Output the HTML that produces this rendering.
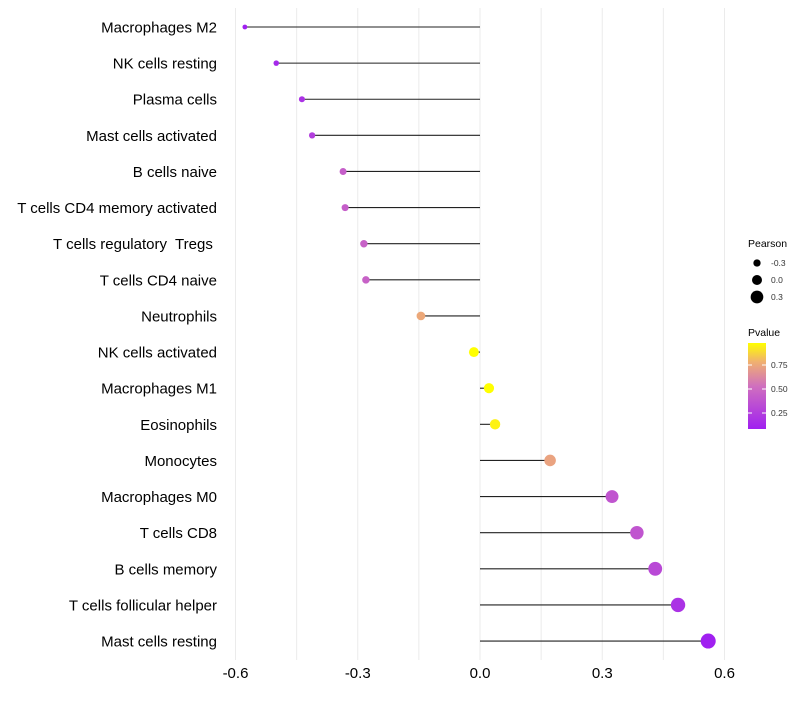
<!DOCTYPE html>
<html><head><meta charset="utf-8"><style>
body{margin:0;background:#fff;font-family:"Liberation Sans",sans-serif}
text{white-space:pre}
</style></head><body>
<svg id="chart" width="800" height="700" xmlns="http://www.w3.org/2000/svg" font-family="Liberation Sans, sans-serif"></svg>
<script>
const categories=["Macrophages M2","NK cells resting","Plasma cells","Mast cells activated","B cells naive","T cells CD4 memory activated","T cells regulatory  Tregs ","T cells CD4 naive","Neutrophils","NK cells activated","Macrophages M1","Eosinophils","Monocytes","Macrophages M0","T cells CD8","B cells memory","T cells follicular helper","Mast cells resting"];
const pearson=[-0.577,-0.50,-0.437,-0.412,-0.336,-0.331,-0.285,-0.28,-0.145,-0.015,0.022,0.037,0.172,0.324,0.385,0.43,0.486,0.56];
const pvalue=[0.05,0.1,0.15,0.22,0.4,0.4,0.42,0.42,0.72,0.95,0.93,0.9,0.7,0.35,0.35,0.28,0.15,0.05];
const xTicks=[-0.6,-0.3,0,0.3,0.6];
const xTickLabels=["-0.6","-0.3","0.0","0.3","0.6"];
const sizeLegend=[-0.3,0,0.3];
const colorLegend=[0.25,0.5,0.75];
const NS="http://www.w3.org/2000/svg";
const svg=document.getElementById('chart');
function X(v){return 480+v*407.5;}
function Y(i){return 27+i*36.12;}
function R(v){return Math.max(1.8,5+4.5*v);}
function col(p){
 const st=[[0.05,[160,32,240]],[0.5,[208,112,190]],[0.75,[240,176,112]],[0.93,[255,255,0]]];
 if(p<=st[0][0])return 'rgb('+st[0][1]+')';
 for(let k=1;k<st.length;k++){if(p<=st[k][0]){const a=st[k-1],b=st[k],t=(p-a[0])/(b[0]-a[0]);return 'rgb('+a[1].map((c,j)=>Math.round(c+(b[1][j]-c)*t)).join(',')+')';}}
 return 'rgb(255,255,0)';
}
function el(t,a,p){const e=document.createElementNS(NS,t);for(const k in a)e.setAttribute(k,a[k]);(p||svg).appendChild(e);return e;}
for(let v=-0.6;v<=0.61;v+=0.15){
 const g=el('line',{x1:X(v),x2:X(v),y1:8,y2:660,stroke:'#ebebeb','stroke-width':1});
 
 
}
xTicks.forEach((v,i)=>{
 const t=el('text',{x:X(v),y:678,'text-anchor':'middle','font-size':15,fill:'#000'});
 t.textContent=xTickLabels[i];
 
 
});
categories.forEach((c,i)=>{
 const t=el('text',{x:217,y:Y(i)+5.5,'text-anchor':'end','font-size':15,fill:'#000'});
 t.textContent=c;
 
 
 const l=el('line',{x1:X(0),x2:X(pearson[i]),y1:Y(i),y2:Y(i),stroke:'#222','stroke-width':1.1});
 
 
 const d=el('circle',{cx:X(pearson[i]),cy:Y(i),r:R(pearson[i]),fill:col(pvalue[i])});
 
 
});
const lt=el('text',{x:748,y:247,'font-size':10.5,fill:'#000'});lt.textContent='Pearson';


sizeLegend.forEach((v,i)=>{
 const y=263+i*17;
 const c=el('circle',{cx:757,cy:y,r:R(v),fill:'#000'});
 
 
 const t=el('text',{x:771,y:y+3,'font-size':8.5,fill:'#333'});t.textContent=v===0?'0.0':v.toFixed(1);
 
 
});
const pt=el('text',{x:748,y:336,'font-size':10.5,fill:'#000'});pt.textContent='Pvalue';


const defs=el('defs',{});
const gr=el('linearGradient',{id:'pg',x1:0,y1:1,x2:0,y2:0},defs);
[[0,'rgb(160,32,240)'],[0.5,'rgb(208,112,190)'],[0.78,'rgb(240,176,112)'],[1,'rgb(255,255,0)']].forEach(s=>el('stop',{offset:s[0],'stop-color':s[1]},gr));
const bar=el('rect',{x:748,y:343,width:18,height:86,fill:'url(#pg)'});


colorLegend.forEach(v=>{
 const y=437-v*96;
 el('line',{x1:748,x2:752,y1:y,y2:y,stroke:'#fff'});el('line',{x1:762,x2:766,y1:y,y2:y,stroke:'#fff'});
 const t=el('text',{x:771,y:y+3,'font-size':8.5,fill:'#333'});t.textContent=v.toFixed(2);
 
 
});
</script>
</body></html>
